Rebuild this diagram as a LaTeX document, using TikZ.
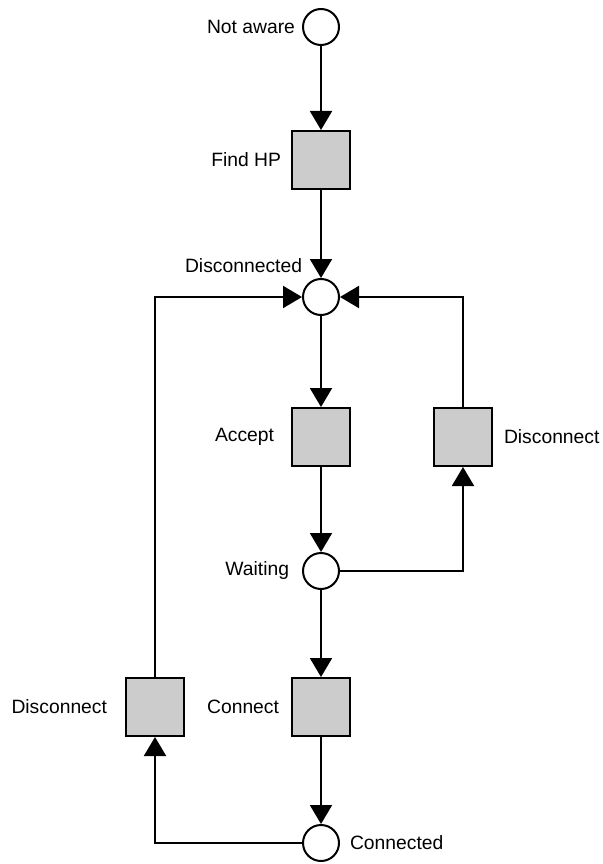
\documentclass[tikz,border=0pt]{standalone}
\usepackage{fontspec}
\setmainfont{Liberation Sans}
\usetikzlibrary{positioning, arrows.meta}
\tikzset{
	>={Triangle[width=22pt,length=19pt]}, % big filled heads
	every path/.style={line width=2pt},
	place/.style={circle, draw, fill=white, minimum size=36pt, inner sep=0pt}, % places
	transition/.style={rectangle, draw, fill=gray!40, minimum size=58pt, inner sep=0pt}, % transitions
	lbl/.style={inner sep=0pt, font=\fontsize{19.3}{22}\selectfont},
}
\begin{document}
\begin{tikzpicture}[x=1pt, y=-1pt]
	\useasboundingbox (0,0) rectangle (602,864);
	\node[place] at (321,27) (notaware) {};
	\node[transition] at (321,160) (findhp) {};
	\node[place] at (321,297) (disconnected) {};
	\node[transition] at (321,437) (accept) {};
	\node[transition] at (463,437) (discr) {};
	\node[place] at (321,571) (waiting) {};
	\node[transition] at (321,707) (connect) {};
	\node[place] at (321,843) (connected) {};
	\node[transition] at (155,707) (discl) {};
	% labels
	\node[lbl, left=6pt of notaware] {Not aware};
	\node[lbl, left=9pt of findhp] {Find HP};
	\node[lbl, anchor=east] at (303,266) {Disconnected};
	\node[lbl, left=16pt of accept] {Accept};
	\node[lbl, left=12pt of waiting] {Waiting};
	\node[lbl, left=11pt of connect] {Connect};
	\node[lbl, right=9pt of connected] {Connected};
	\node[lbl, right=10pt of discr] {Disconnect};
	\node[lbl, left=17pt of discl] {Disconnect};
	% arcs
	\draw[->] (notaware) -- (findhp);
	\draw[->] (findhp) -- (disconnected);
	\draw[->] (disconnected) -- (accept);
	\draw[->] (accept) -- (waiting);
	\draw[->] (waiting) -- (connect);
	\draw[->] (connect) -- (connected);
	\draw[->] (waiting.east) -| (discr.south);
	\draw[->] (discr.north) |- (disconnected.east);
	\draw[->] (connected.west) -| (discl.south);
	\draw[->] (discl.north) |- (disconnected.west);
\end{tikzpicture}
\end{document}
